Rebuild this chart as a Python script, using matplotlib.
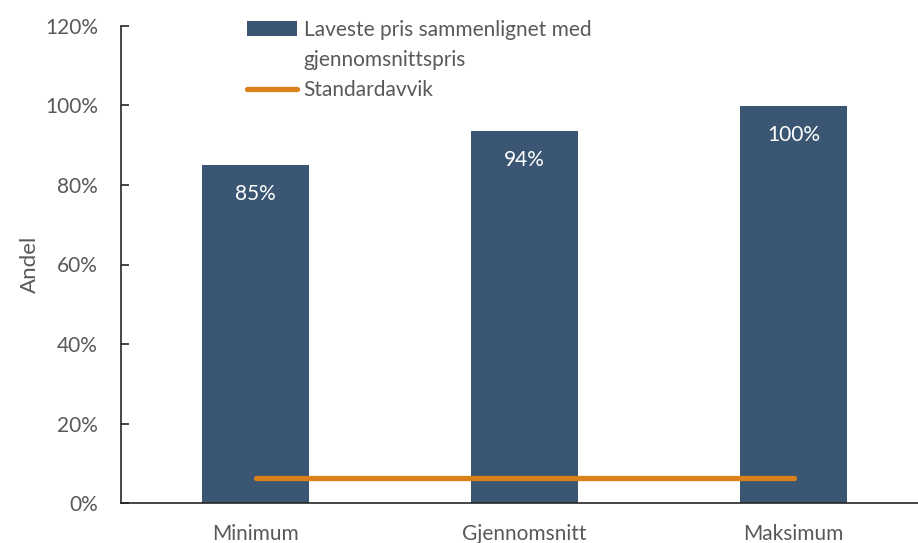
import matplotlib
matplotlib.use("Agg")
import matplotlib.pyplot as plt
from matplotlib.ticker import FuncFormatter, MultipleLocator
from matplotlib.patches import Rectangle

categories = ["Minimum", "Gjennomsnitt", "Maksimum"]
laveste_pris = [0.85, 0.936, 1.00]
bar_labels = ["85%", "94%", "100%"]
standardavvik = [0.063, 0.063, 0.063]
legend_labels = ["Laveste pris sammenlignet med", "gjennomsnittspris", "Standardavvik"]

bar_color = "#3A5673"
line_color = "#D9801A"
text_color = "#595959"

plt.rcParams['font.family'] = ['Lato', 'DejaVu Sans']

fig = plt.figure(figsize=(9.18, 5.43), dpi=100)
ax = fig.add_axes([121/918, 40/543, 797/918, 477/543])

x = list(range(len(categories)))
bars = ax.bar(x, laveste_pris, width=0.395, color=bar_color, zorder=2)
line, = ax.plot(x, standardavvik, color=line_color, lw=3.8, solid_capstyle='round',
                zorder=3)

for xi, v, lab in zip(x, laveste_pris, bar_labels):
    ax.annotate(lab, (xi, v), xytext=(0, -21), textcoords='offset points',
                ha='center', va='center', color='white', fontsize=15)

ax.set_xlim(-0.5, -0.5 + 797/269)
ax.set_ylim(0, 1.2)
ax.yaxis.set_major_locator(MultipleLocator(0.2))
ax.yaxis.set_major_formatter(FuncFormatter(lambda v, p: f"{v*100:.0f}%"))
ax.set_xticks(x)
ax.set_xticklabels(categories)
ax.tick_params(axis='x', length=0, pad=15, labelsize=15, labelcolor=text_color)
ax.tick_params(axis='y', direction='in', length=6, width=1.2, color='#262626',
               pad=16.5, labelsize=15, labelcolor=text_color)
ax.spines['top'].set_visible(False)
ax.spines['right'].set_visible(False)
for s in ['left', 'bottom']:
    ax.spines[s].set_color('#262626')
    ax.spines[s].set_linewidth(1.2)
ax.set_ylabel("Andel", fontsize=16, color=text_color, labelpad=4)

blank = Rectangle((0, 0), 1, 1, fill=False, edgecolor='none', linewidth=0)
leg = ax.legend([bars, blank, line], legend_labels,
                loc='upper left', bbox_to_anchor=(118/797, 1.031), frameon=False,
                fontsize=15, handlelength=2.4, handletextpad=0.3,
                labelspacing=0.5, borderaxespad=0)
for t in leg.get_texts():
    t.set_color(text_color)

fig.savefig("out.png", dpi=100)
